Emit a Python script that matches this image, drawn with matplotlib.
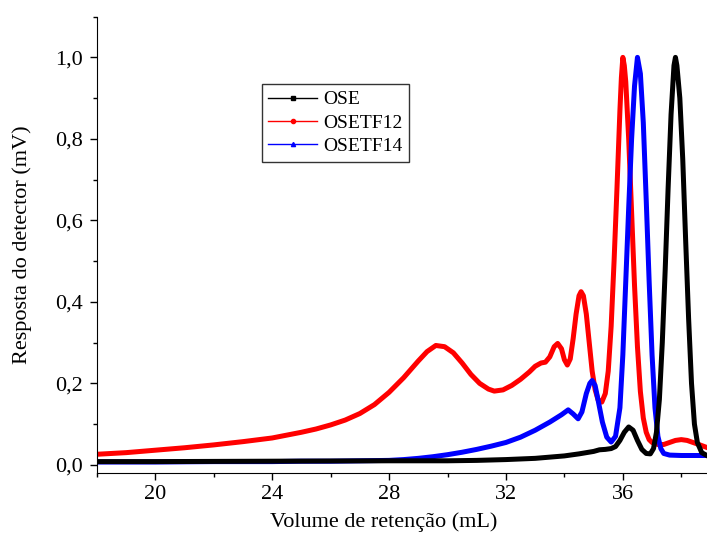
import matplotlib
matplotlib.use('Agg')
import matplotlib.pyplot as plt
from matplotlib.ticker import MultipleLocator, FuncFormatter

plt.rcParams['font.family'] = ['Liberation Serif', 'DejaVu Serif']

# OSE (black)
ose_x = [18, 20, 24, 28, 30, 31, 32, 33, 33.5, 34, 34.5, 35, 35.2, 35.4, 35.6,
         35.75, 35.9, 36.05, 36.2, 36.35, 36.5, 36.65, 36.8, 36.94, 37.05, 37.15,
         37.25, 37.35, 37.45, 37.55, 37.65, 37.75, 37.8, 37.85, 37.95, 38.05,
         38.15, 38.25, 38.35, 38.45, 38.55, 38.7, 38.9]
ose_y = [0.008, 0.008, 0.009, 0.010, 0.010, 0.011, 0.013, 0.016, 0.019, 0.022,
         0.027, 0.033, 0.037, 0.038, 0.040, 0.045, 0.060, 0.080, 0.093, 0.085,
         0.060, 0.038, 0.028, 0.027, 0.040, 0.080, 0.160, 0.300, 0.480, 0.680,
         0.860, 0.980, 1.000, 0.980, 0.900, 0.750, 0.550, 0.360, 0.200, 0.100,
         0.055, 0.030, 0.022]

# OSETF12 (red)
tf12_x = [18, 19, 20, 21, 22, 23, 24, 25, 25.5, 26, 26.5, 27, 27.5, 28, 28.5,
          29, 29.3, 29.6, 29.9, 30.2, 30.5, 30.8, 31.1, 31.4, 31.6, 31.9, 32.2,
          32.5, 32.8, 33.0, 33.2, 33.35, 33.5, 33.65, 33.77, 33.9, 34.0, 34.1,
          34.2, 34.3, 34.4, 34.5, 34.57, 34.65, 34.75, 34.85, 34.95, 35.05,
          35.15, 35.28, 35.4, 35.5, 35.6, 35.7, 35.8, 35.9, 35.95, 36.0, 36.05,
          36.1, 36.2, 36.3, 36.4, 36.5, 36.6, 36.7, 36.8, 36.9, 37.0, 37.2,
          37.4, 37.6, 37.8, 38.0, 38.2, 38.4, 38.6, 38.9]
tf12_y = [0.026, 0.030, 0.036, 0.042, 0.049, 0.057, 0.066, 0.080, 0.088, 0.098,
          0.110, 0.126, 0.148, 0.178, 0.214, 0.255, 0.278, 0.293, 0.290, 0.275,
          0.250, 0.222, 0.200, 0.186, 0.181, 0.184, 0.195, 0.210, 0.228, 0.242,
          0.250, 0.252, 0.265, 0.290, 0.298, 0.285, 0.258, 0.245, 0.260, 0.310,
          0.370, 0.415, 0.425, 0.415, 0.370, 0.300, 0.230, 0.185, 0.160, 0.154,
          0.175, 0.230, 0.340, 0.500, 0.680, 0.870, 0.950, 1.000, 0.980, 0.940,
          0.800, 0.620, 0.440, 0.290, 0.180, 0.115, 0.080, 0.062, 0.055, 0.050,
          0.050, 0.055, 0.060, 0.062, 0.060, 0.055, 0.050, 0.042]

# OSETF14 (blue)
tf14_x = [18, 20, 22, 24, 25, 26, 27, 28, 28.5, 29, 29.5, 30, 30.5, 31, 31.5,
          32, 32.5, 33, 33.5, 33.9, 34.13, 34.3, 34.47, 34.6, 34.75, 34.87,
          34.95, 35.05, 35.15, 35.3, 35.45, 35.6, 35.75, 35.9, 36.0, 36.1, 36.2,
          36.3, 36.4, 36.5, 36.6, 36.7, 36.8, 36.9, 37.0, 37.1, 37.2, 37.3,
          37.4, 37.6, 38.0, 38.9]
tf14_y = [0.007, 0.007, 0.008, 0.008, 0.009, 0.009, 0.010, 0.011, 0.013, 0.016,
          0.020, 0.025, 0.031, 0.038, 0.046, 0.055, 0.068, 0.085, 0.105, 0.123,
          0.135, 0.125, 0.113, 0.130, 0.175, 0.200, 0.207, 0.195, 0.160, 0.105,
          0.068, 0.056, 0.070, 0.140, 0.270, 0.450, 0.630, 0.800, 0.930, 1.000,
          0.960, 0.840, 0.650, 0.450, 0.270, 0.140, 0.070, 0.040, 0.028, 0.024,
          0.023, 0.023]

fig = plt.figure(figsize=(7.07, 5.36), dpi=100)
ax = fig.add_axes([0.137, 0.1175, 0.863, 0.8515])

lw = 3.6
ax.plot(ose_x, ose_y, color='black', lw=lw, zorder=3)
ax.plot(tf12_x, tf12_y, color='red', lw=lw, zorder=2)
ax.plot(tf14_x, tf14_y, color='blue', lw=lw, zorder=2)

# legend handles: thin lines with a small marker
h1, = ax.plot([], [], color='black', lw=1, marker='s', ms=3, label='OSE')
h2, = ax.plot([], [], color='red', lw=1, marker='o', ms=3, label='OSETF12')
h3, = ax.plot([], [], color='blue', lw=1, marker='^', ms=3, label='OSETF14')
leg = ax.legend(handles=[h1, h2, h3], loc='upper left',
                bbox_to_anchor=(0.27, 0.8525), borderaxespad=0,
                fancybox=False, frameon=True, fontsize=14,
                handlelength=2.5, handletextpad=0.3, borderpad=0.35,
                labelspacing=0.3)
leg.get_frame().set_edgecolor('black')
leg.get_frame().set_linewidth(1.0)

ax.set_xlim(18, 38.88)
ax.set_ylim(-0.02, 1.1)

ax.spines['top'].set_visible(False)
ax.spines['right'].set_visible(False)

ax.xaxis.set_major_locator(MultipleLocator(4))
ax.xaxis.set_minor_locator(MultipleLocator(2))
ax.yaxis.set_major_locator(MultipleLocator(0.2))
ax.yaxis.set_minor_locator(MultipleLocator(0.1))
ax.yaxis.set_major_formatter(FuncFormatter(lambda v, p: ('%.1f' % v).replace('.', ',')))
ax.tick_params(which='major', direction='out', length=5, width=1, labelsize=16)
ax.tick_params(which='minor', direction='out', length=3, width=1)
ax.tick_params(axis='y', which='major', pad=5)

ax.set_xlabel('Volume de retenção (mL)', fontsize=16)
ax.set_ylabel('Resposta do detector (mV)', fontsize=16)
ax.xaxis.set_label_coords(0.47, -0.085)
ax.yaxis.set_label_coords(-0.107, 0.5)

fig.savefig('out.png', dpi=100)
